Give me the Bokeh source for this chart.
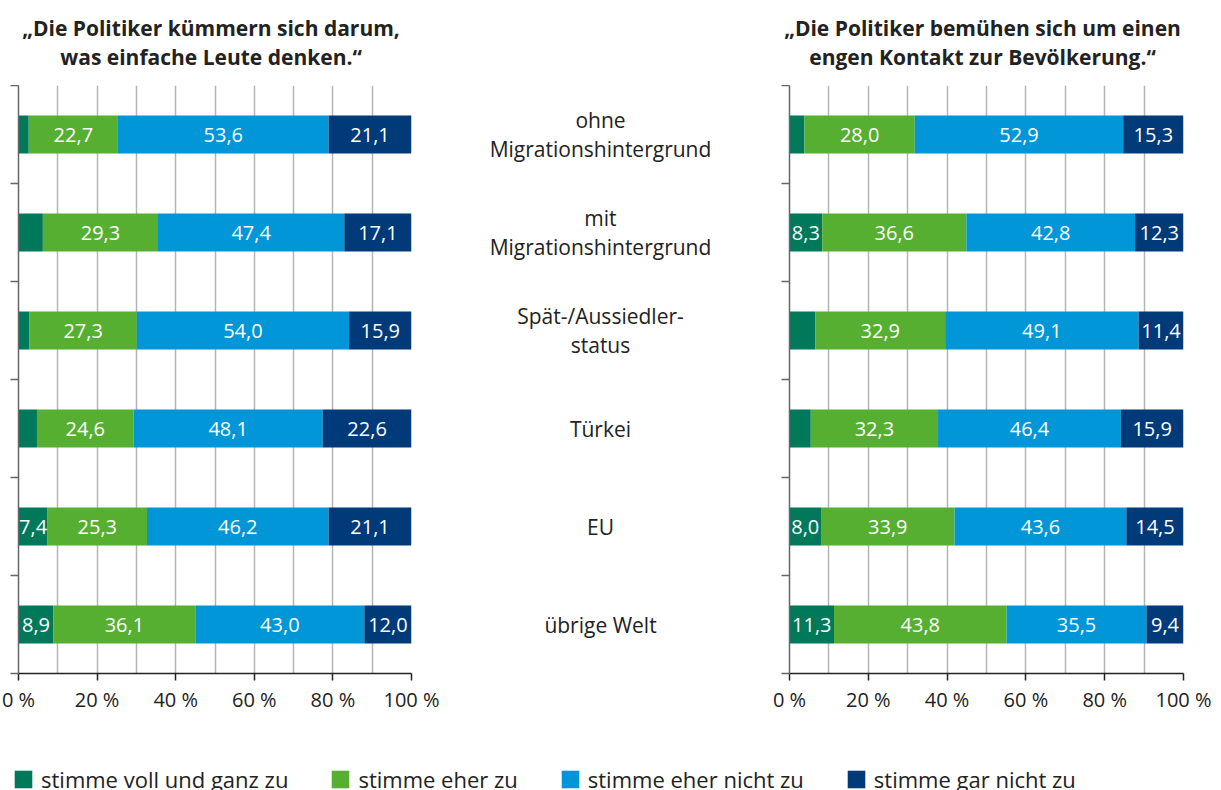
from bokeh.plotting import figure
from bokeh.models import ColumnDataSource, Range1d, FixedTicker, Legend, LegendItem, Spacer
from bokeh.layouts import row, column
from bokeh.embed import file_html
from bokeh.resources import INLINE
from bokeh.core.properties import value

FONT = "Open Sans"

categories = ["ohne\nMigrationshintergrund", "mit\nMigrationshintergrund",
              "Spät-/Aussiedler-\nstatus", "Türkei", "EU", "übrige Welt"]
series_names = ["stimme voll und ganz zu", "stimme eher zu",
                "stimme eher nicht zu", "stimme gar nicht zu"]
colors = ["#00785A", "#56AF31", "#0096D7", "#003A78"]

left_voll = [2.6, 6.2, 2.8, 4.7, 7.4, 8.9]
left_eher = [22.7, 29.3, 27.3, 24.6, 25.3, 36.1]
left_eher_nicht = [53.6, 47.4, 54.0, 48.1, 46.2, 43.0]
left_gar_nicht = [21.1, 17.1, 15.9, 22.6, 21.1, 12.0]

right_voll = [3.8, 8.3, 6.6, 5.4, 8.0, 11.3]
right_eher = [28.0, 36.6, 32.9, 32.3, 33.9, 43.8]
right_eher_nicht = [52.9, 42.8, 49.1, 46.4, 43.6, 35.5]
right_gar_nicht = [15.3, 12.3, 11.4, 15.9, 14.5, 9.4]

left_title = ["\u201eDie Politiker kümmern sich darum,", "was einfache Leute denken.\u201c"]
right_title = ["\u201eDie Politiker bemühen sich um einen", "engen Kontakt zur Bevölkerung.\u201c"]

x_ticks = [0, 20, 40, 60, 80, 100]
x_tick_labels = ["0 %", "20 %", "40 %", "60 %", "80 %", "100 %"]
grid_ticks = [0, 10, 20, 30, 40, 50, 60, 70, 80, 90, 100]

TOP = 85       # height of the title strip
H = 665        # height of the panels (bar area + x axis)
BOTTOM = 77
n = len(categories)
ys = [n - 0.5 - i for i in range(n)]

LEFT_W, LEFT_BL, LEFT_BR = 450, 18, 39
MID_W = 300
RIGHT_W, RIGHT_BL, RIGHT_BR = 471, 39, 38


def fmt(v):
    return f"{v:.1f}".replace(".", ",")


def make_panel(values, width, bl, br):
    p = figure(width=width, height=H, x_range=Range1d(0, 100), y_range=Range1d(0, n),
               output_backend="svg", toolbar_location=None,
               min_border_left=bl, min_border_right=br,
               min_border_top=0, min_border_bottom=BOTTOM)
    p.outline_line_color = None
    lefts = [0.0] * n
    for vals, col in zip(values, colors):
        rights = [l + v for l, v in zip(lefts, vals)]
        src = ColumnDataSource(dict(y=ys, left=lefts, right=rights))
        p.hbar(y="y", left="left", right="right", height=0.39, fill_color=col,
               line_color=None, source=src)
        lx, ly, lt = [], [], []
        for l, r, v, y in zip(lefts, rights, vals, ys):
            if v >= 7:
                lx.append((l + r) / 2)
                ly.append(y)
                lt.append(fmt(v))
        p.text(x=lx, y=ly, text=lt, text_align="center", text_baseline="middle",
               text_color="white", text_font_size="20px", text_font=value(FONT))
        lefts = rights

    p.xgrid.ticker = FixedTicker(ticks=grid_ticks)
    p.xgrid.grid_line_color = "#b4b4b4"
    p.xgrid.grid_line_width = 1.5
    p.ygrid.visible = False

    xa = p.xaxis[0]
    xa.ticker = FixedTicker(ticks=x_ticks)
    xa.major_label_overrides = {t: s for t, s in zip(x_ticks, x_tick_labels)}
    xa.major_tick_in = 0
    xa.major_tick_out = 7
    xa.minor_tick_line_color = None
    xa.axis_line_color = "#222222"
    xa.major_tick_line_color = "#222222"
    xa.axis_line_width = 1.5
    xa.major_tick_line_width = 1.5
    xa.major_label_text_font_size = "20px"
    xa.major_label_text_font = FONT
    xa.major_label_text_color = "#222222"
    xa.major_label_standoff = 5

    ya = p.yaxis[0]
    ya.ticker = FixedTicker(ticks=list(range(n + 1)))
    ya.major_label_overrides = {i: "" for i in range(n + 1)}
    ya.major_label_standoff = 0
    ya.major_tick_in = 0
    ya.major_tick_out = 8
    ya.minor_tick_line_color = None
    ya.axis_line_color = "#666666"
    ya.major_tick_line_color = "#666666"
    ya.axis_line_width = 1.5
    ya.major_tick_line_width = 1.5
    return p


def make_title(lines, width, bl, br):
    # title strip whose x scale matches the panel below it (0..100 over the panel frame)
    ppu = (width - bl - br) / 100.0
    t = figure(width=width, height=TOP, x_range=Range1d(-bl / ppu, 100 + br / ppu),
               y_range=Range1d(0, 1), output_backend="svg", toolbar_location=None,
               x_axis_location=None, y_axis_location=None,
               min_border_left=0, min_border_right=0, min_border_top=0, min_border_bottom=0)
    t.outline_line_color = None
    t.xgrid.visible = False
    t.ygrid.visible = False
    t.text(x=[50, 50], y=[0, 0], text=lines, x_offset=-4, y_offset=[-58, -29],
           text_align="center", text_baseline="middle", text_font_size="21px",
           text_font_style="bold", text_color="#222222", text_font=value(FONT))
    return t


left = make_panel([left_voll, left_eher, left_eher_nicht, left_gar_nicht],
                  LEFT_W, LEFT_BL, LEFT_BR)
right = make_panel([right_voll, right_eher, right_eher_nicht, right_gar_nicht],
                   RIGHT_W, RIGHT_BL, RIGHT_BR)
left_t = make_title(left_title, LEFT_W, LEFT_BL, LEFT_BR)
right_t = make_title(right_title, RIGHT_W, RIGHT_BL, RIGHT_BR)

mid = figure(width=MID_W, height=H, x_range=Range1d(0, 1), y_range=Range1d(0, n),
             output_backend="svg", toolbar_location=None,
             x_axis_location=None, y_axis_location=None,
             min_border_left=0, min_border_right=0,
             min_border_top=0, min_border_bottom=BOTTOM)
mid.outline_line_color = None
mid.xgrid.visible = False
mid.ygrid.visible = False
mid.text(x=[0.5] * n, y=ys, text=categories, text_align="center", text_baseline="middle",
         text_color="#222222", text_font_size="21px", text_font=value(FONT),
         text_line_height=1.05)

leg = figure(width=1221, height=40, x_range=Range1d(0, 1), y_range=Range1d(0, 1),
             output_backend="svg", toolbar_location=None,
             x_axis_location=None, y_axis_location=None,
             min_border_left=12, min_border_right=0, min_border_top=14, min_border_bottom=0)
leg.outline_line_color = None
leg.xgrid.visible = False
leg.ygrid.visible = False
items = []
for name, col in zip(series_names, colors):
    # dummy point outside the visible range, only to give the legend its swatch
    r = leg.rect(x=[5], y=[5], width=1, height=1, fill_color=col, line_color=None)
    items.append(LegendItem(label=name, renderers=[r]))
legend = Legend(items=items, orientation="horizontal", location="top_left",
                glyph_width=22, glyph_height=22, label_text_font_size="22px",
                label_text_font=FONT, label_text_color="#222222",
                spacing=41, label_standoff=7, margin=0, padding=0,
                border_line_color=None, background_fill_alpha=0)
leg.add_layout(legend, "center")

layout = column(row(left_t, Spacer(width=MID_W, height=TOP), right_t),
                row(left, mid, right), leg)
open("out.html", "w").write(file_html(layout, INLINE))
